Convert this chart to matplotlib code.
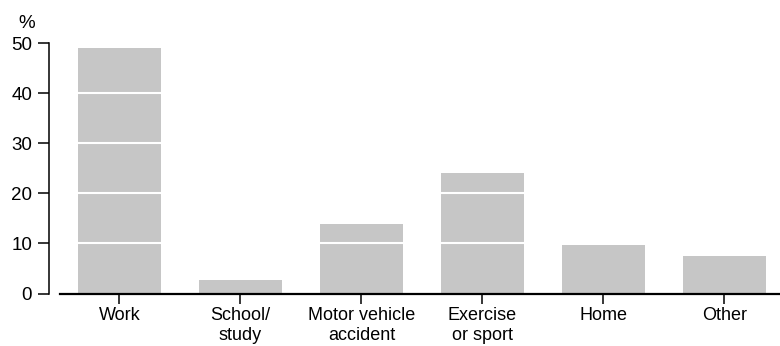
import matplotlib
matplotlib.use("Agg")
import matplotlib.pyplot as plt

# Data
categories = ["Work", "School/\nstudy", "Motor vehicle\naccident", "Exercise\nor sport", "Home", "Other"]
values = [49.1, 2.7, 13.9, 24.1, 9.7, 7.5]
yticks = [0, 10, 20, 30, 40, 50]

plt.rcParams['font.family'] = ['Liberation Sans', 'DejaVu Sans']

fig = plt.figure(figsize=(7.8, 3.46), dpi=100)
ax = fig.add_axes([60 / 780, 1 - 293.5 / 346, 1 - 60 / 780, (293.5 - 43) / 346])

x = list(range(len(categories)))
ax.bar(x, values, width=0.686, color="#c6c6c6", zorder=1)

# white gridlines over the bars
for y in yticks[1:-1]:
    ax.axhline(y, color="white", lw=1.5, zorder=2)

ax.set_xlim(-0.4917, 5.4587)
ax.set_ylim(0, 50)
ax.set_yticks(yticks)
ax.set_xticks(x)
ax.set_xticklabels(categories, fontsize=13, linespacing=1.2)
ax.tick_params(axis="y", labelsize=13.5, length=8, width=1.1, pad=4, colors="black")
ax.tick_params(axis="x", length=7, width=1.1, pad=3)

ax.spines["top"].set_visible(False)
ax.spines["right"].set_visible(False)
ax.spines["left"].set_position(("outward", 8))
ax.spines["left"].set_linewidth(1.1)
ax.spines["bottom"].set_linewidth(1.6)
ax.spines["bottom"].set_zorder(3)

fig.text(27 / 780, 1 - 23 / 346, "%", ha="center", va="center", fontsize=13.5)

fig.savefig("out.png", dpi=100)
